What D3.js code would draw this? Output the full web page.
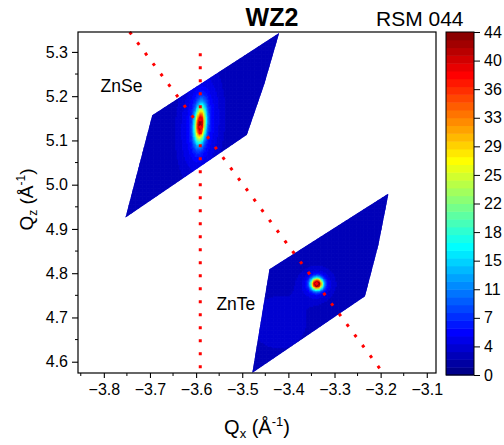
<!DOCTYPE html>
<html>
<head>
<meta charset="utf-8">
<script src="https://cdn.jsdelivr.net/npm/d3@7"></script>
<style>
  body { margin: 0; background: #fff; }
  svg { display: block; font-family: "Liberation Sans", Arial, sans-serif; }
</style>
</head>
<body>
<svg id="chart" width="504" height="445"></svg>
<script>
const xTicks = [-3.8, -3.7, -3.6, -3.5, -3.4, -3.3, -3.2, -3.1]
const yTicks = [4.6, 4.7, 4.8, 4.9, 5.0, 5.1, 5.2, 5.3]
const cbarLabels = ['0', '4', '7', '11', '15', '18', '22', '25', '29', '33', '36', '40', '44']
const cbarMax = 44

// measured outlines of the two scanned areas (Qx, Qz)
const znseOutline = [[-3.695, 5.157], [-3.420, 5.343], [-3.452, 5.228], [-3.490, 5.113], [-3.753, 4.926]]
const znteOutline = [[-3.441, 4.809], [-3.183, 4.980], [-3.205, 4.864], [-3.234, 4.748], [-3.478, 4.575]]
const regionNames = ['ZnSe', 'ZnTe']
const regionLabelPos = [[-3.807, 5.209], [-3.556, 4.717]]

// intensity features: centre, height, widths, tilt
const peakRegion = [0, 0, 1, 1, 1]
const peakX = [-3.591, -3.591, -3.338, -3.338, -3.420]
const peakY = [5.138, 5.138, 4.777, 4.777, 4.690]
const peakAmp = [39, 5, 46, 4, 2]
const peakSx = [0.008, 0.03, 0.0085, 0.025, 0.05]
const peakSy = [0.027, 0.08, 0.0088, 0.025, 0.05]
const peakShear = [0.06, 0.06, 0, 0, 0]
const baseLevel = 2

// dotted guide lines
const guideVertical = [[-3.591, 5.297], [-3.591, 4.5745]]
const guideDiagonal = [[-3.744, 5.345], [-3.195, 4.575]]

const margin = {top: 32, right: 68, bottom: 72, left: 78}
const width = 504
const height = 445

const svg = d3.select('#chart')

const x = d3.scaleLinear()
  .domain([-3.856, -3.080])
  .range([margin.left, width - margin.right])

const y = d3.scaleLinear()
  .domain([4.5745, 5.345])
  .range([height - margin.bottom, margin.top])

function jet(t) {
  const c = v => Math.max(0, Math.min(1, v))
  const r = c(1.5 - Math.abs(4 * t - 3))
  const g = c(1.5 - Math.abs(4 * t - 2))
  const b = c(1.5 - Math.abs(4 * t - 1))
  return d3.rgb(r * 255, g * 255, b * 255).formatHex()
}

const levels = d3.range(cbarMax).map(i => jet((i + 0.5) / cbarMax))
const color = d3.scaleQuantize().domain([0, cbarMax]).range(levels)

function intensity(qx, qz, region) {
  let v = baseLevel
  peakX.forEach((px, i) => {
    if (peakRegion[i] !== region) return
    const dy = qz - peakY[i]
    const dx = qx - px - peakShear[i] * dy
    v += peakAmp[i] * Math.exp(-0.5 * ((dx / peakSx[i]) ** 2 + (dy / peakSy[i]) ** 2))
  })
  return Math.min(v, cbarMax - 0.01)
}

const defs = svg.append('defs')
const step = 0.003
const outlines = [znseOutline, znteOutline]

outlines.forEach((outline, r) => {
  defs.append('clipPath')
    .attr('id', 'clip' + r)
    .append('path')
    .attr('d', d3.line().x(d => x(d[0])).y(d => y(d[1]))(outline) + 'Z')

  const x0 = d3.min(outline, d => d[0]) - step
  const x1 = d3.max(outline, d => d[0]) + step
  const y0 = d3.min(outline, d => d[1]) - step
  const y1 = d3.max(outline, d => d[1]) + step
  const cells = []
  for (let qx = x0; qx <= x1; qx += step) {
    for (let qz = y0; qz <= y1; qz += step) {
      const cx = qx + step / 2, cz = qz + step / 2
      // keep cells touching the polygon
      const near = [[0, 0], [step, 0], [-step, 0], [0, step], [0, -step]]
        .some(o => d3.polygonContains(outline, [cx + o[0], cz + o[1]]))
      if (near) cells.push({qx, qz, v: intensity(cx, cz, r)})
    }
  }

  const cw = x(x0 + step) - x(x0)
  const ch = y(y0) - y(y0 + step)

  svg.append('g')
    .attr('class', 'map')
    .attr('clip-path', `url(#clip${r})`)
    .selectAll('rect')
    .data(cells)
    .join('rect')
      .attr('x', d => x(d.qx))
      .attr('y', d => y(d.qz + step))
      .attr('width', cw + 0.6)
      .attr('height', ch + 0.6)
      .attr('fill', d => color(d.v))
})

// guide lines
const guide = d3.line().x(d => x(d[0])).y(d => y(d[1]))
svg.append('g')
  .attr('class', 'guides')
  .selectAll('path')
  .data([guideVertical, guideDiagonal])
  .join('path')
    .attr('d', guide)
    .attr('fill', 'none')
    .attr('stroke', '#ff0000')
    .attr('stroke-width', 3)
    .attr('stroke-dasharray', '3,10')

// region labels
svg.append('g')
  .selectAll('text')
  .data(regionNames)
  .join('text')
    .attr('x', (d, i) => x(regionLabelPos[i][0]))
    .attr('y', (d, i) => y(regionLabelPos[i][1]))
    .attr('font-size', 17.5)
    .attr('fill', '#000')
    .text(d => d)

// axes
const xMinor = d3.range(-3.85, -3.079, 0.05).filter(v => !xTicks.some(t => Math.abs(t - v) < 1e-6))
const yMinor = d3.range(4.6, 5.346, 0.05).filter(v => !yTicks.some(t => Math.abs(t - v) < 1e-6))

const xAxis = g => g
  .attr('transform', `translate(0, ${height - margin.bottom})`)
  .call(d3.axisBottom(x).tickValues(xTicks).tickSize(5).tickPadding(6)
    .tickFormat(d => d3.format('.1f')(d).replace('-', '\u2212')))
  .call(g => g.select('.domain').remove())

const yAxis = g => g
  .attr('transform', `translate(${margin.left}, 0)`)
  .call(d3.axisLeft(y).tickValues(yTicks).tickSize(6).tickPadding(4).tickFormat(d3.format('.1f')))
  .call(g => g.select('.domain').remove())

svg.append('g').attr('class', 'x-axis').call(xAxis)
svg.append('g').attr('class', 'y-axis').call(yAxis)

svg.append('g')
  .selectAll('line')
  .data(xMinor)
  .join('line')
    .attr('x1', d => x(d)).attr('x2', d => x(d))
    .attr('y1', height - margin.bottom).attr('y2', height - margin.bottom + 3)
    .attr('stroke', '#000')
svg.append('g')
  .selectAll('line')
  .data(yMinor)
  .join('line')
    .attr('x1', margin.left - 3).attr('x2', margin.left)
    .attr('y1', d => y(d)).attr('y2', d => y(d))
    .attr('stroke', '#000')

svg.selectAll('.x-axis text, .y-axis text')
  .attr('font-size', 16)
  .attr('font-family', '"Liberation Sans", Arial, sans-serif')
  .attr('fill', '#000')
svg.selectAll('.x-axis line, .y-axis line').attr('stroke', '#000').attr('stroke-width', 1.1)

// frame
svg.append('rect')
  .attr('x', margin.left)
  .attr('y', margin.top)
  .attr('width', width - margin.right - margin.left)
  .attr('height', height - margin.bottom - margin.top)
  .attr('fill', 'none')
  .attr('stroke', '#000')
  .attr('stroke-width', 1.2)

// axis titles
const xt = svg.append('text')
  .attr('x', (margin.left + width - margin.right) / 2)
  .attr('y', 434)
  .attr('text-anchor', 'middle')
  .attr('font-size', 20)
xt.append('tspan').text('Q')
xt.append('tspan').attr('font-size', 13).attr('dy', 4).text('x')
xt.append('tspan').attr('dy', -4).text(' (Å')
xt.append('tspan').attr('font-size', 13).attr('dy', -8).text('-1')
xt.append('tspan').attr('dy', 8).text(')')

const yt = svg.append('text')
  .attr('transform', `translate(33, ${(margin.top + height - margin.bottom) / 2 - 3}) rotate(-90)`)
  .attr('text-anchor', 'middle')
  .attr('font-size', 19)
yt.append('tspan').text('Q')
yt.append('tspan').attr('font-size', 12).attr('dy', 4).text('z')
yt.append('tspan').attr('dy', -4).text(' (Å')
yt.append('tspan').attr('font-size', 12).attr('dy', -8).text('-1')
yt.append('tspan').attr('dy', 8).text(')')

// titles
svg.append('text')
  .attr('x', 272).attr('y', 26)
  .attr('text-anchor', 'middle')
  .attr('font-size', 25)
  .attr('font-weight', 'bold')
  .text('WZ2')
svg.append('text')
  .attr('x', 376).attr('y', 26)
  .attr('font-size', 21)
  .text('RSM 044')

// colour bar
const cb = {x: 446, w: 28, top: 32, bottom: 375}
const cy = d3.scaleLinear().domain([0, cbarMax]).range([cb.bottom, cb.top])
const cbar = svg.append('g').attr('class', 'colorbar')
cbar.selectAll('rect')
  .data(levels)
  .join('rect')
    .attr('x', cb.x)
    .attr('y', (d, i) => cy(i + 1))
    .attr('width', cb.w)
    .attr('height', (d, i) => cy(i) - cy(i + 1) + 0.5)
    .attr('fill', d => d)
cbar.append('rect')
  .attr('x', cb.x).attr('y', cb.top)
  .attr('width', cb.w).attr('height', cb.bottom - cb.top)
  .attr('fill', 'none').attr('stroke', '#000').attr('stroke-width', 1)

const cbTicks = cbarLabels.map((d, i) => i * cbarMax / (cbarLabels.length - 1))
const cAxis = d3.axisRight(cy).tickValues(cbTicks).tickSize(6).tickPadding(4)
  .tickFormat((d, i) => cbarLabels[i])
cbar.append('g')
  .attr('transform', `translate(${cb.x + cb.w}, 0)`)
  .call(cAxis)
  .call(g => g.select('.domain').remove())
  .call(g => g.selectAll('text').attr('font-size', 16).attr('fill', '#000')
    .attr('font-family', '"Liberation Sans", Arial, sans-serif'))
  .call(g => g.selectAll('line').attr('stroke', '#000'))
</script>
</body>
</html>
